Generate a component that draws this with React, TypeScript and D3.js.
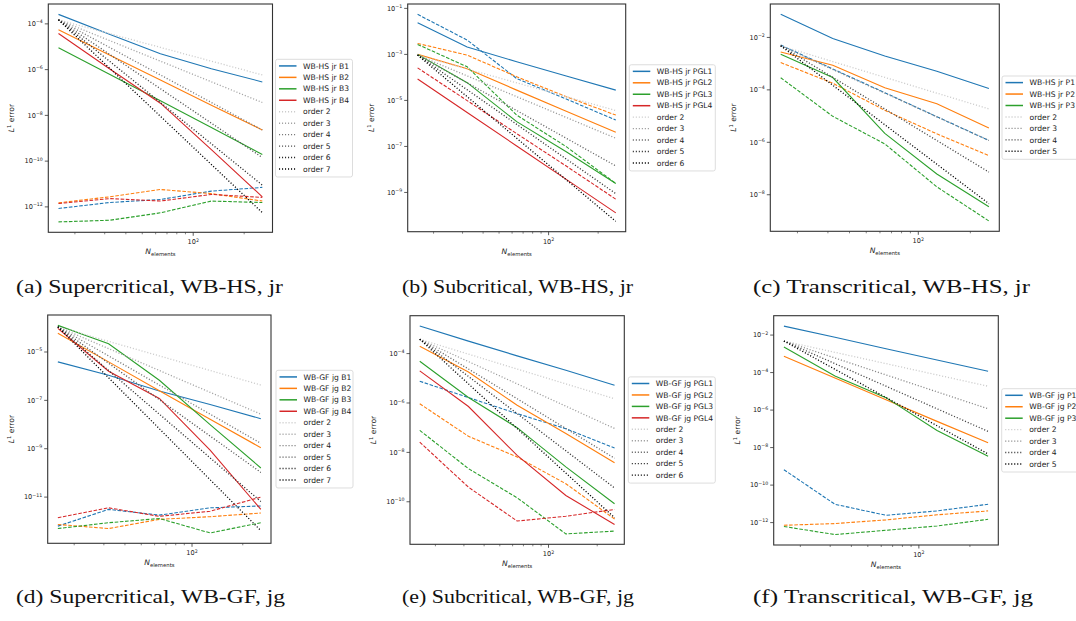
import React from 'react';
import * as d3 from 'd3';

// ---------- data ----------
const N_ELEMENTS = [16, 32, 64, 128, 256];
const SERIES_COLORS = ['#1f77b4', '#ff7f0e', '#2ca02c', '#d62728'];

// (a) Supercritical, WB-HS, jr
const A_LABELS = ['WB-HS jr B1', 'WB-HS jr B2', 'WB-HS jr B3', 'WB-HS jr B4'];
const A_SOLID = [
  [2.6e-4, 3.5e-5, 4.9e-6, 1.1e-6, 2.9e-7],
  [5.5e-5, 4.4e-6, 3.5e-7, 2.8e-8, 2.3e-9],
  [9.1e-6, 6.3e-7, 4.4e-8, 2.95e-9, 1.95e-10],
  [3.8e-5, 1.1e-6, 3.4e-8, 3.2e-10, 2.75e-12],
];
const A_DASHED = [
  [8.5e-13, 1.55e-12, 2.1e-12, 4.9e-12, 7.1e-12],
  [1.5e-12, 2.75e-12, 5.75e-12, 3.8e-12, 1.8e-12],
  [2.2e-13, 2.6e-13, 5.5e-13, 1.8e-12, 1.55e-12],
  [1.4e-12, 2.3e-12, 1.8e-12, 3.5e-12, 2.6e-12],
];
const A_ORDERS = [2, 3, 4, 5, 6, 7];
const A_ANCHOR = 1.5e-4;
const A_YTICKS = [-12, -10, -8, -6, -4];
const A_CAPTION = '(a) Supercritical, WB-HS, jr';

// (b) Subcritical, WB-HS, jr
const B_LABELS = ['WB-HS jr PGL1', 'WB-HS jr PGL2', 'WB-HS jr PGL3', 'WB-HS jr PGL4'];
const B_SOLID = [
  [2.4e-2, 2.1e-3, 4.8e-4, 1.15e-4, 2.8e-5],
  [1.0e-3, 2.4e-4, 2.8e-5, 3.4e-6, 4.1e-7],
  [1.0e-3, 5.9e-5, 1.2e-6, 5.9e-8, 2.45e-9],
  [8.5e-5, 3.0e-6, 1.05e-7, 3.7e-9, 1.3e-10],
];
const B_DASHED = [
  [5.5e-2, 4.2e-3, 8.9e-5, 1.15e-5, 1.4e-6],
  [3.0e-3, 9.3e-4, 1.07e-4, 1.45e-5, 2.3e-6],
  [2.7e-3, 2.9e-4, 2.3e-6, 9.8e-8, 2.45e-9],
  [2.6e-4, 9.8e-6, 3.6e-7, 1.4e-8, 5.1e-10],
];
const B_ORDERS = [2, 3, 4, 5, 6];
const B_ANCHOR = 9.3e-4;
const B_YTICKS = [-9, -7, -5, -3, -1];
const B_CAPTION = '(b) Subcritical, WB-HS, jr';

// (c) Transcritical, WB-HS, jr
const C_LABELS = ['WB-HS jr P1', 'WB-HS jr P2', 'WB-HS jr P3'];
const C_SOLID = [
  [7.6e-2, 9.1e-3, 1.95e-3, 5.1e-4, 1.12e-4],
  [2.8e-3, 8.7e-4, 1.2e-4, 2.95e-5, 3.5e-6],
  [2.3e-3, 2.95e-4, 2.2e-6, 6.2e-8, 3.5e-9],
];
const C_DASHED = [
  [5.1e-3, 6.3e-4, 7.8e-5, 9.5e-6, 1.17e-6],
  [1.1e-3, 1.8e-4, 1.66e-5, 2.1e-6, 3.1e-7],
  [2.9e-4, 9.8e-6, 8.7e-7, 2.0e-8, 1.0e-9],
];
const C_ORDERS = [2, 3, 4, 5];
const C_ANCHOR = 4.8e-3;
const C_YTICKS = [-8, -6, -4, -2];
const C_CAPTION = '(c) Transcritical, WB-HS, jr';

// (d) Supercritical, WB-GF, jg
const D_LABELS = ['WB-GF jg B1', 'WB-GF jg B2', 'WB-GF jg B3', 'WB-GF jg B4'];
const D_SOLID = [
  [3.9e-6, 1.1e-6, 2.45e-7, 6.8e-8, 1.74e-8],
  [5.9e-5, 3.9e-6, 2.5e-7, 1.66e-8, 1.1e-9],
  [1.26e-4, 2.2e-5, 6.8e-7, 1.0e-8, 1.6e-10],
  [9.5e-5, 1.6e-6, 1.2e-7, 8.7e-10, 3.1e-12],
];
const D_DASHED = [
  [6.3e-13, 3.1e-12, 1.8e-12, 3.6e-12, 4.3e-12],
  [7.4e-13, 5.0e-13, 1.2e-12, 1.55e-12, 2.2e-12],
  [5.0e-13, 8.7e-13, 1.3e-12, 3.3e-13, 8.7e-13],
  [1.4e-12, 3.6e-12, 1.6e-12, 2.6e-12, 1.0e-11],
];
const D_ORDERS = [2, 3, 4, 5, 6, 7];
const D_ANCHOR = 1.1e-4;
const D_YTICKS = [-11, -9, -7, -5];
const D_CAPTION = '(d) Supercritical, WB-GF, jg';

// (e) Subcritical, WB-GF, jg
const E_LABELS = ['WB-GF jg PGL1', 'WB-GF jg PGL2', 'WB-GF jg PGL3', 'WB-GF jg PGL4'];
const E_SOLID = [
  [1.3e-3, 3.2e-4, 8.1e-5, 2.1e-5, 5.2e-6],
  [2.0e-4, 1.8e-5, 8.1e-7, 5.8e-8, 3.8e-9],
  [4.9e-5, 1.66e-6, 1.0e-7, 2.6e-9, 8.3e-11],
  [2.0e-5, 7.2e-7, 7.6e-9, 1.8e-10, 1.2e-11],
];
const E_DASHED = [
  [7.6e-6, 1.66e-6, 3.7e-7, 9.1e-8, 1.5e-8],
  [9.3e-7, 4.5e-8, 6.5e-9, 5.4e-10, 2.0e-11],
  [7.8e-8, 2.2e-9, 1.45e-10, 5.0e-12, 6.5e-12],
  [2.6e-8, 3.9e-10, 1.66e-11, 2.6e-11, 4.9e-11],
];
const E_ORDERS = [2, 3, 4, 5, 6];
const E_ANCHOR = 3.8e-4;
const E_YTICKS = [-10, -8, -6, -4];
const E_CAPTION = '(e) Subcritical, WB-GF, jg';

// (f) Transcritical, WB-GF, jg
const F_LABELS = ['WB-GF jg P1', 'WB-GF jg P2', 'WB-GF jg P3'];
const F_SOLID = [
  [3.0e-2, 7.6e-3, 1.86e-3, 4.7e-4, 1.17e-4],
  [7.4e-4, 5.1e-5, 3.6e-6, 2.5e-7, 1.8e-8],
  [2.3e-3, 6.6e-5, 4.6e-6, 8.1e-8, 3.5e-9],
];
const F_DASHED = [
  [6.6e-10, 9.5e-12, 2.45e-12, 4.2e-12, 9.5e-12],
  [7.2e-13, 8.9e-13, 1.4e-12, 2.6e-12, 4.2e-12],
  [6.2e-13, 2.3e-13, 3.9e-13, 6.6e-13, 1.5e-12],
];
const F_ORDERS = [2, 3, 4, 5];
const F_ANCHOR = 4.8e-3;
const F_YTICKS = [-12, -10, -8, -6, -4, -2];
const F_CAPTION = '(f) Transcritical, WB-GF, jg';

const X_MAJOR = [100];
const X_MINOR = [20, 30, 40, 50, 60, 70, 80, 90, 200];

// ---------- layout ----------
const LAYOUT = [
  { L: 48.3, T: 4, R: 272.5, B: 232.3, legX: 275.5, legW: 77, cap0: 16, cap1: 283, capY: 292.7 },
  { L: 407.7, T: 4, R: 625.7, B: 231.7, legX: 629.3, legW: 86, cap0: 402, cap1: 633, capY: 292.7 },
  { L: 770.3, T: 4, R: 999.3, B: 231.3, legX: 1002, legW: 82, cap0: 753, cap1: 1030, capY: 292.7 },
  { L: 47.7, T: 315, R: 271, B: 543.3, legX: 276, legW: 77, cap0: 16, cap1: 285, capY: 603 },
  { L: 410, T: 315.7, R: 624.3, B: 544.3, legX: 628.3, legW: 87, cap0: 402, cap1: 634, capY: 603 },
  { L: 773.7, T: 315.7, R: 998.3, B: 545, legX: 1001.7, legW: 82, cap0: 753, cap1: 1033, capY: 603 },
];

const PANELS = [
  { labels: A_LABELS, solid: A_SOLID, dashed: A_DASHED, orders: A_ORDERS, anchor: A_ANCHOR, yTicks: A_YTICKS, caption: A_CAPTION },
  { labels: B_LABELS, solid: B_SOLID, dashed: B_DASHED, orders: B_ORDERS, anchor: B_ANCHOR, yTicks: B_YTICKS, caption: B_CAPTION },
  { labels: C_LABELS, solid: C_SOLID, dashed: C_DASHED, orders: C_ORDERS, anchor: C_ANCHOR, yTicks: C_YTICKS, caption: C_CAPTION },
  { labels: D_LABELS, solid: D_SOLID, dashed: D_DASHED, orders: D_ORDERS, anchor: D_ANCHOR, yTicks: D_YTICKS, caption: D_CAPTION },
  { labels: E_LABELS, solid: E_SOLID, dashed: E_DASHED, orders: E_ORDERS, anchor: E_ANCHOR, yTicks: E_YTICKS, caption: E_CAPTION },
  { labels: F_LABELS, solid: F_SOLID, dashed: F_DASHED, orders: F_ORDERS, anchor: F_ANCHOR, yTicks: F_YTICKS, caption: F_CAPTION },
];

const SANS = "'DejaVu Sans', sans-serif";
const SERIF = "'Liberation Serif', 'DejaVu Serif', serif";
const DASH = '3.6 1.6';
const DOT = '1.1 1.9';

function orderColor(i: number, n: number) {
  const g = Math.round(255 * 0.8 * (1 - i / (n - 1)));
  return `rgb(${g},${g},${g})`;
}

function Panel({ idx }: { idx: number }) {
  const p = PANELS[idx];
  const lay = LAYOUT[idx];
  const { L, T, R, B } = lay;
  const n0 = N_ELEMENTS[0];
  const nLast = N_ELEMENTS[N_ELEMENTS.length - 1];
  const lx0 = Math.log10(n0), lx1 = Math.log10(nLast);
  const xm = 0.05 * (lx1 - lx0);
  const x = d3.scaleLog().domain([10 ** (lx0 - xm), 10 ** (lx1 + xm)]).range([L, R]);

  const orderVals = p.orders.map((o) => N_ELEMENTS.map((nn) => p.anchor * Math.pow(nn / n0, -o)));
  const all = [...p.solid.flat(), ...p.dashed.flat(), ...orderVals.flat()];
  const ly0 = Math.log10(d3.min(all)!), ly1 = Math.log10(d3.max(all)!);
  const ym = 0.05 * (ly1 - ly0);
  const y = d3.scaleLog().domain([10 ** (ly0 - ym), 10 ** (ly1 + ym)]).range([B, T]);

  const line = d3
    .line<number>()
    .x((_, i) => x(N_ELEMENTS[i]))
    .y((d) => y(d));

  const clipId = `clip${idx}`;
  const nEntries = p.labels.length + p.orders.length;
  const step = 11.45;
  const legH = 6.6 + (nEntries - 1) * step + 8;
  const legTop = (T + B) / 2 - legH / 2;
  const entries = [
    ...p.labels.map((lab, i) => ({ lab, color: SERIES_COLORS[i], dash: undefined as string | undefined, w: 1.5 })),
    ...p.orders.map((o, i) => ({ lab: `order ${o}`, color: orderColor(i, p.orders.length), dash: DOT, w: 1.4 })),
  ];
  const cx = (L + R) / 2;
  const cy = (T + B) / 2;

  return (
    <g>
      <defs>
        <clipPath id={clipId}>
          <rect x={L} y={T} width={R - L} height={B - T} />
        </clipPath>
      </defs>
      <rect x={L} y={T} width={R - L} height={B - T} fill="#fff" />
      <g clipPath={`url(#${clipId})`} fill="none">
        {p.solid.map((s, i) => (
          <g key={i}>
            <path d={line(s)!} stroke={SERIES_COLORS[i]} strokeWidth={1.1} />
            <path d={line(p.dashed[i])!} stroke={SERIES_COLORS[i]} strokeWidth={1.1} strokeDasharray={DASH} />
          </g>
        ))}
        {orderVals.map((v, i) => (
          <path key={i} d={line(v)!} stroke={orderColor(i, p.orders.length)} strokeWidth={1.3} strokeDasharray={DOT} />
        ))}
      </g>
      <rect x={L} y={T} width={R - L} height={B - T} fill="none" stroke="#333" strokeWidth={1.1} />
      {/* y ticks */}
      {p.yTicks.map((e) => {
        const yy = y(10 ** e);
        return (
          <g key={e}>
            <line x1={L} x2={L - 3.5} y1={yy} y2={yy} stroke="#333" strokeWidth={0.8} />
            <text x={L - 5.5} y={yy} dy="0.35em" textAnchor="end" fontFamily={SANS} fontSize={6.6} fill="#222">
              10<tspan dy={-2.8} fontSize={4.7}>{`\u2212${Math.abs(e)}`}</tspan>
            </text>
          </g>
        );
      })}
      {/* x ticks */}
      {X_MINOR.map((v) => (
        <line key={v} x1={x(v)} x2={x(v)} y1={B} y2={B + 2} stroke="#333" strokeWidth={0.6} />
      ))}
      {X_MAJOR.map((v) => (
        <g key={v}>
          <line x1={x(v)} x2={x(v)} y1={B} y2={B + 3.5} stroke="#333" strokeWidth={0.8} />
          <text x={x(v)} y={B + 12} textAnchor="middle" fontFamily={SANS} fontSize={6.6} fill="#222">
            10<tspan dy={-2.8} fontSize={4.7}>{String(Math.round(Math.log10(v)))}</tspan>
          </text>
        </g>
      ))}
      {/* axis labels */}
      <text x={cx} y={B + 22} textAnchor="middle" fontFamily={SANS} fontSize={7.6} fill="#222">
        <tspan fontStyle="italic">N</tspan>
        <tspan dy={1.8} fontSize={5.3}>elements</tspan>
      </text>
      <text
        transform={`translate(${L - 36.5},${cy}) rotate(-90)`}
        dy="0.35em"
        textAnchor="middle"
        fontFamily={SANS}
        fontSize={7.6}
        fill="#222"
      >
        <tspan fontStyle="italic">L</tspan>
        <tspan dy={-3} fontSize={5.3}>1</tspan>
        <tspan dy={3}>{' error'}</tspan>
      </text>
      {/* legend */}
      <rect x={lay.legX} y={legTop} width={lay.legW} height={legH} rx={2} fill="#fff" fillOpacity={0.8} stroke="#d4d4d4" strokeWidth={0.8} />
      {entries.map((en, i) => {
        const ey = legTop + 6.6 + i * step;
        return (
          <g key={i}>
            <line x1={lay.legX + 3.5} x2={lay.legX + 21} y1={ey} y2={ey} stroke={en.color} strokeWidth={en.w} strokeDasharray={en.dash} />
            <text x={lay.legX + 27.5} y={ey} dy="0.35em" fontFamily={SANS} fontSize={7.6} fill="#222">
              {en.lab}
            </text>
          </g>
        );
      })}
      {/* caption */}
      <text
        x={lay.cap0}
        y={lay.capY}
        fontFamily={SERIF}
        fontSize={19}
        textLength={lay.cap1 - lay.cap0}
        lengthAdjust="spacingAndGlyphs"
        fill="#111"
      >
        {p.caption}
      </text>
    </g>
  );
}

export default function App() {
  return (
    <svg
      width={1076}
      height={621}
      viewBox="0 0 1076 621"
      style={{ position: 'absolute', left: 0, top: 0, display: 'block', background: '#fff' }}
    >
      <rect x={0} y={0} width={1076} height={621} fill="#fff" />
      {PANELS.map((_, i) => (
        <Panel key={i} idx={i} />
      ))}
    </svg>
  );
}
